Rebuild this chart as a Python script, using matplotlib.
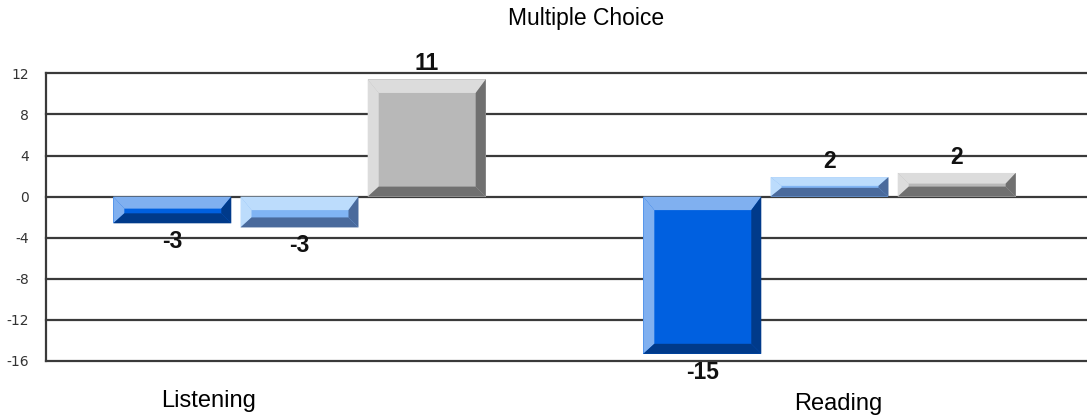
import matplotlib
matplotlib.use("Agg")
import matplotlib.pyplot as plt
from matplotlib.patches import Polygon
import numpy as np

# ---------------- data ----------------
categories = ["Listening", "Reading"]
series1 = [-2.6, -15.3]
series2 = [-3.0, 1.9]
series3 = [11.4, 2.3]
labels1 = ["-3", "-15"]
labels2 = ["-3", "2"]
labels3 = ["11", "2"]
yticks = [-16, -12, -8, -4, 0, 4, 8, 12]
title = "Multiple Choice"

# ---------------- style ----------------
# (light bevel, main face, dark bevel)
colors = [
    ("#80b0f0", "#0060e0", "#003a8a"),
    ("#bcdcfc", "#80b4f4", "#4a6a9c"),
    ("#dcdcdc", "#b8b8b8", "#707070"),
]
line_col = "#3a3a3a"
W, H = 1087, 420

plt.rcParams["font.family"] = ["Liberation Sans", "DejaVu Sans"]

fig = plt.figure(figsize=(W / 100, H / 100), dpi=100)
ax_left, ax_right = 46, 1087
ax_top, ax_bot = 73.3, 361.0
ax = fig.add_axes([ax_left / W, (H - ax_bot) / H,
                   (ax_right - ax_left) / W, (ax_bot - ax_top) / H])

group_px = 530.0
g0_px = 299.5
ax.set_xlim((ax_left - g0_px) / group_px, (ax_right - g0_px) / group_px)
ax.set_ylim(yticks[0], yticks[-1])

# spines / grid
for s in ["top", "right", "bottom"]:
    ax.spines[s].set_visible(False)
ax.spines["left"].set_color(line_col)
ax.spines["left"].set_linewidth(1.6)
for yv in yticks:
    ax.axhline(yv, color=line_col, lw=1.6, zorder=1, clip_on=False)

ax.set_yticks(yticks)
ax.set_yticklabels([str(t) for t in yticks], family="DejaVu Sans")
ax.tick_params(axis="y", length=0, pad=12, labelsize=10, labelcolor="#333333")
ax.set_xticks([])

# bars
x = np.arange(len(categories))
offsets = [-0.24, 0.0, 0.24]
bw = 0.2226
all_series = [series1, series2, series3]
all_labels = [labels1, labels2, labels3]

sx = ax.transData.transform((1, 0))[0] - ax.transData.transform((0, 0))[0]
sy = ax.transData.transform((0, 1))[1] - ax.transData.transform((0, 0))[1]

for si, (vals, labs) in enumerate(zip(all_series, all_labels)):
    light, main, dark = colors[si]
    bars = ax.bar(x + offsets[si], vals, width=bw, color=main, zorder=3,
                  linewidth=0)
    for rect, v, lab in zip(bars.patches, vals, labs):
        x0 = rect.get_x()
        x1 = x0 + rect.get_width()
        ya = rect.get_y()
        yb = ya + rect.get_height()
        y0, y1 = min(ya, yb), max(ya, yb)
        hpx = (y1 - y0) * sy
        tpx = min(13.5, 0.45 * hpx)
        bpx = min(10.0, 0.45 * hpx)
        lpx, rpx = 11.0, 10.0
        t, b = tpx / sy, bpx / sy
        l, r = lpx / sx, rpx / sx
        polys = [
            ([(x0, y1), (x1, y1), (x1 - r, y1 - t), (x0 + l, y1 - t)], light),
            ([(x0, y0), (x0, y1), (x0 + l, y1 - t), (x0 + l, y0 + b)], light),
            ([(x1, y0), (x1, y1), (x1 - r, y1 - t), (x1 - r, y0 + b)], dark),
            ([(x0, y0), (x1, y0), (x1 - r, y0 + b), (x0 + l, y0 + b)], dark),
        ]
        for pts, c in polys:
            ax.add_patch(Polygon(pts, closed=True, facecolor=c,
                                 edgecolor="none", zorder=4))
        cx = x0 + rect.get_width() / 2
        if v >= 0:
            ax.annotate(lab, (cx, v), xytext=(0, 6.5), textcoords="offset points",
                        ha="center", va="baseline", fontsize=16.5,
                        fontweight="bold", color="#111111", zorder=5)
        else:
            ax.annotate(lab, (cx, v), xytext=(0, -5), textcoords="offset points",
                        ha="center", va="top", fontsize=16.5,
                        fontweight="bold", color="#111111", zorder=5)

# category labels
cat_dx = [-0.171, 0.016]
cat_dy = [-33, -35.5]
for i, (c, dx, dy) in enumerate(zip(categories, cat_dx, cat_dy)):
    ax.annotate(c, (x[i] + dx, yticks[0]), xytext=(0, dy),
                textcoords="offset points", ha="center", va="baseline",
                fontsize=17, color="#000000", annotation_clip=False)

fig.text(586 / W, 1 - 25 / H, title, ha="center", va="baseline",
         fontsize=16.5, color="#000000")

fig.savefig("out.png", dpi=100)
